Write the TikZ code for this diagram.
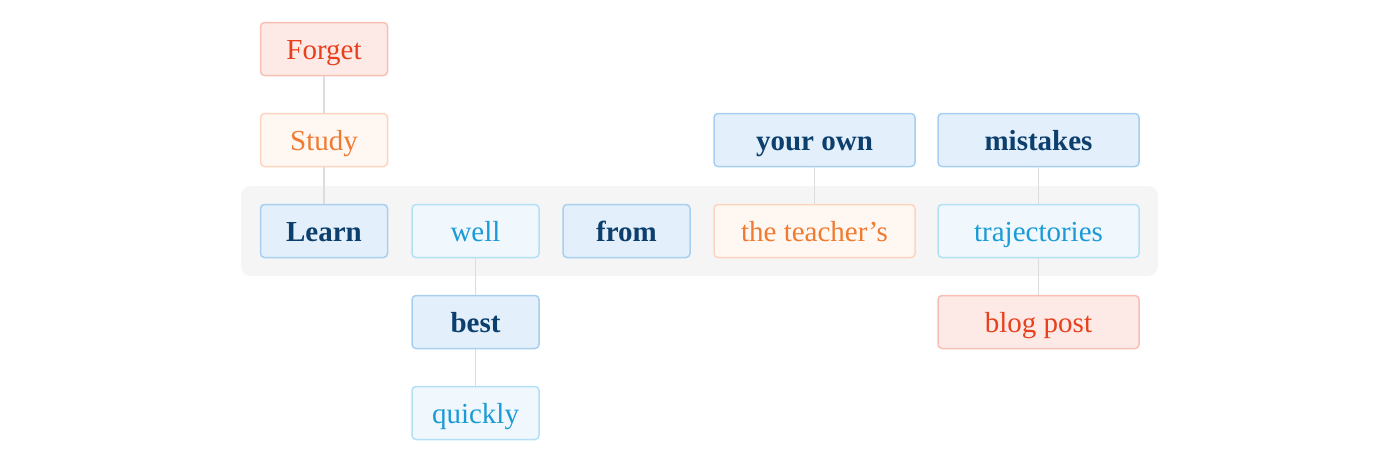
\documentclass[tikz,border=0pt]{standalone}
\usepackage{fontspec}
\setmainfont{Liberation Serif}
\definecolor{dbtext}{HTML}{0D3F6E}
\definecolor{dbfill}{HTML}{E3F0FB}
\definecolor{dbdraw}{HTML}{A8CFF0}
\definecolor{lbtext}{HTML}{1A9AD6}
\definecolor{lbfill}{HTML}{F0F8FD}
\definecolor{lbdraw}{HTML}{B3E0F5}
\definecolor{ortext}{HTML}{F07A30}
\definecolor{orfill}{HTML}{FFF7F2}
\definecolor{ordraw}{HTML}{FDD5BF}
\definecolor{rdtext}{HTML}{E8401C}
\definecolor{rdfill}{HTML}{FDE9E6}
\definecolor{rddraw}{HTML}{F8C0B5}
\definecolor{band}{HTML}{F5F5F5}
\definecolor{conn}{HTML}{DDDDDD}
\begin{document}
\begin{tikzpicture}[x=1pt,y=-1pt,
  box/.style={rounded corners=4pt,line width=1.5pt,inner sep=0pt,
    text height=22pt,text depth=2pt,
    font=\fontsize{29}{34}\selectfont},
  small/.style={box,minimum width=127pt,minimum height=53pt},
  wide/.style={box,minimum width=201pt,minimum height=53pt},
  dblue/.style={fill=dbfill,draw=dbdraw,text=dbtext,font=\fontsize{29}{34}\selectfont\bfseries},
  lblue/.style={fill=lbfill,draw=lbdraw,text=lbtext},
  orng/.style={fill=orfill,draw=ordraw,text=ortext},
  red/.style={fill=rdfill,draw=rddraw,text=rdtext},
  link/.style={draw=conn,line width=1.2pt}]
\useasboundingbox (0,0) rectangle (1400,467);
\fill[band,rounded corners=10pt] (241,186) rectangle (1158,276);
\node[small,red]   (forget) at (324,49)  {Forget};
\node[small,orng]  (study)  at (324,140) {Study};
\node[small,dblue] (learn)  at (324,231) {Learn};
\node[small,lblue] (well)   at (475.5,231) {well};
\node[small,dblue] (from)   at (626.5,231) {from};
\node[wide,orng]   (teach)  at (814.5,231) {the teacher’s};
\node[wide,lblue]  (traj)   at (1038.5,231) {trajectories};
\node[wide,dblue]  (own)    at (814.5,140) {your own};
\node[wide,dblue]  (mist)   at (1038.5,140) {mistakes};
\node[small,dblue] (best)   at (475.5,322) {best};
\node[small,lblue] (quick)  at (475.5,413) {quickly};
\node[wide,red]    (blog)   at (1038.5,322) {blog post};
\draw[link] (forget.south) -- (study.north);
\draw[link] (study.south) -- (learn.north);
\draw[link] (well.south) -- (best.north);
\draw[link] (best.south) -- (quick.north);
\draw[link] (own.south) -- (teach.north);
\draw[link] (mist.south) -- (traj.north);
\draw[link] (traj.south) -- (blog.north);
\end{tikzpicture}
\end{document}
